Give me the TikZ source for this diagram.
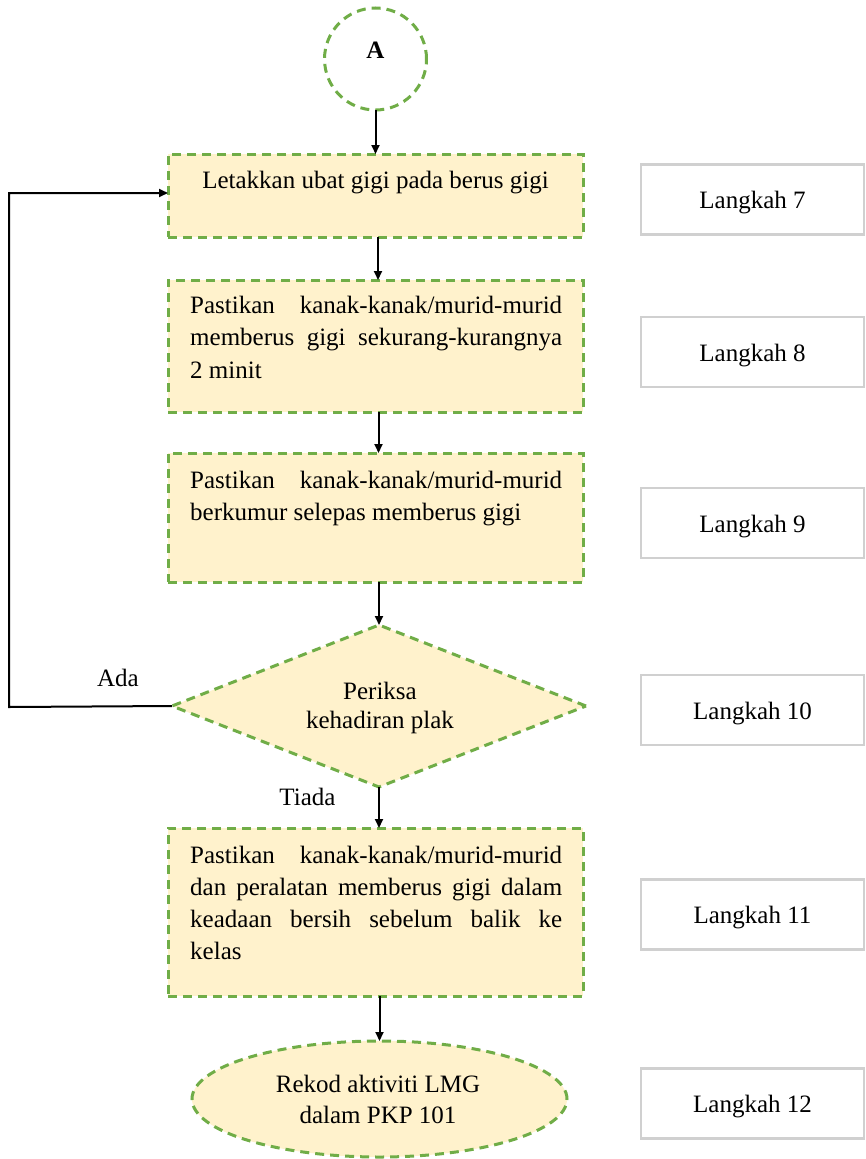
\documentclass[tikz,border=0pt]{standalone}
\usepackage{fontspec}
\setmainfont{Liberation Serif}
\usetikzlibrary{shapes.geometric,arrows.meta}
\definecolor{flowgreen}{HTML}{70AD47}
\definecolor{flowfill}{HTML}{FFF2CC}
\definecolor{stepgray}{HTML}{D0D0D0}
\begin{document}
\begin{tikzpicture}[x=1pt,y=-1pt,
  flowshape/.style={draw=flowgreen, fill=flowfill, line width=3pt, dash pattern=on 9pt off 6pt, inner sep=0pt, outer sep=0pt},
  procbox/.style={flowshape, rectangle, minimum width=415pt},
  stepbox/.style={draw=stepgray, line width=2.8pt, rectangle, minimum width=223pt, minimum height=70pt, inner sep=0pt,
    font=\fontsize{25pt}{30pt}\selectfont, text height=20pt, text depth=2pt},
  txt/.style={font=\fontsize{25pt}{32.5pt}\selectfont, inner sep=0pt, anchor=base},
  arr/.style={line width=2pt, -{Triangle[length=9pt,width=8pt]}},
]
\useasboundingbox (0,0) rectangle (865,1159);

% start connector
\node[flowshape, fill=none, circle, minimum size=102pt] (cA) at (375.5,59) {};
\node[txt, font=\fontsize{25pt}{30pt}\selectfont\bfseries] (tA) at (375.5,58) {A};

% step 7
\node[procbox, minimum height=83pt] (b1) at (375.5,195.5) {};
\node[txt] (t1) at (375.5,188) {Letakkan ubat gigi pada berus gigi};

% step 8
\node[procbox, minimum height=132pt] (b2) at (375.5,346) {};
\node[txt, anchor=base west] (t2) at (190,313) {\vtop{\baselineskip=32.5pt
  \hbox{\makebox[372pt][s]{Pastikan kanak-kanak/murid-murid}}
  \hbox{\makebox[372pt][s]{memberus gigi sekurang-kurangnya}}
  \hbox{2 minit}}};

% step 9
\node[procbox, minimum height=129pt] (b3) at (375.5,517.5) {};
\node[txt, anchor=base west] (t3) at (190,488) {\vtop{\baselineskip=32pt
  \hbox{\makebox[372pt][s]{Pastikan kanak-kanak/murid-murid}}
  \hbox{berkumur selepas memberus gigi}}};

% step 10 decision
\node[flowshape, diamond, minimum width=414pt, minimum height=162pt] (dm) at (379,706) {};
\node[txt] (t4a) at (380,699) {Periksa};
\node[txt] (t4b) at (380,728) {kehadiran plak};

% step 11
\node[procbox, minimum height=168pt] (b4) at (375.5,912) {};
\node[txt, anchor=base west] (t5) at (190,863) {\vtop{\baselineskip=32pt
  \hbox{\makebox[372pt][s]{Pastikan kanak-kanak/murid-murid}}
  \hbox{\makebox[372pt][s]{dan peralatan memberus gigi dalam}}
  \hbox{\makebox[372pt][s]{keadaan bersih sebelum balik ke}}
  \hbox{kelas}}};

% step 12 terminator
\node[flowshape, ellipse, minimum width=375pt, minimum height=116pt] (el) at (379.5,1099) {};
\node[txt] (t6a) at (378,1092) {Rekod aktiviti LMG};
\node[txt] (t6b) at (378,1123) {dalam PKP 101};

% step labels
\node[stepbox] (s7) at (752.5,199.5) {Langkah 7};
\node[stepbox] (s8) at (752.5,352) {Langkah 8};
\node[stepbox] (s9) at (752.5,523) {Langkah 9};
\node[stepbox] (s10) at (752.5,710) {Langkah 10};
\node[stepbox] (s11) at (752.5,914.5) {Langkah 11};
\node[stepbox] (s12) at (752.5,1103.5) {Langkah 12};

% branch labels
\node[txt] (ada) at (118,686) {Ada};
\node[txt] (tiada) at (307.5,805) {Tiada};

% connectors
\draw[arr] (cA.south) -- (b1.north);
\draw[arr] ([xshift=2.5pt]b1.south) -- ([xshift=2.5pt]b2.north);
\draw[arr] ([xshift=3pt]b2.south) -- ([xshift=3pt]b3.north);
\draw[arr] (b3.south -| dm.north) -- (dm.north);
\draw[arr] (dm.south) -- (b4.north -| dm.south);
\draw[arr] (b4.south -| el.north) -- (el.north);
\coordinate (lpA) at (9,707);
\coordinate (lpB) at (9,193);
\draw[arr] (dm.west) -- (lpA) -- (lpB) -- (b1.west |- lpB);
\end{tikzpicture}
\end{document}
